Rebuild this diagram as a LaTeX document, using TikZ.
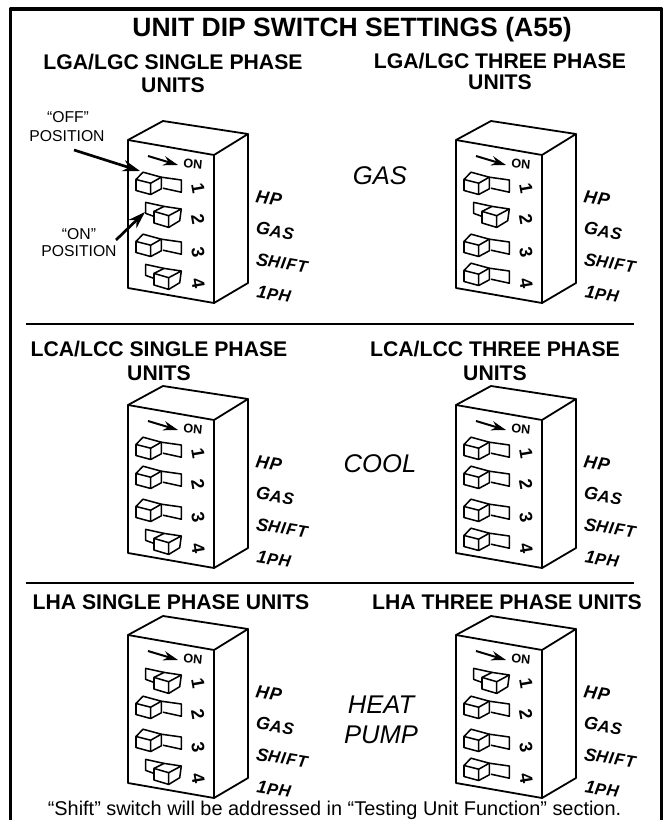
\documentclass[tikz,border=0pt]{standalone}
\usepackage{fontspec}
\setmainfont{Liberation Sans}
\newfontfamily\tagfont[LetterSpace=5]{Liberation Sans}
\usetikzlibrary{arrows.meta}

\begin{document}
\begin{tikzpicture}
		[x=0.75pt,y=-0.75pt,line join=round,
		box line/.style={line width=1.35pt},
		switch line/.style={line width=1.15pt},
		rule line/.style={line width=1.15pt},
		on arrow/.style={line width=1.5pt,-{Stealth[length=11pt,width=7pt]}},
		pos arrow/.style={line width=2pt,-{Stealth[length=13pt,width=8.5pt]}},
		main title/.style={inner sep=0pt,anchor=base,font=\bfseries\fontsize{19.9}{22}\selectfont},
		sub title/.style={inner sep=0pt,anchor=base,font=\bfseries\fontsize{15.9}{18}\selectfont},
		mode label/.style={inner sep=0pt,anchor=base,font=\itshape\fontsize{19.2}{22}\selectfont},
		pos label/.style={inner sep=0pt,anchor=base,font=\fontsize{11.8}{14}\selectfont},
		tag label/.style={inner sep=0pt,rotate=-9,font=\tagfont\bfseries\itshape},
		num label/.style={inner sep=0pt,rotate=-80,font=\bfseries\fontsize{13.5}{13.5}\selectfont},
		on label/.style={inner sep=0pt,rotate=-5,font=\bfseries\fontsize{9.5}{9.5}\selectfont},
		pics/swoff/.style={code={
			\draw[switch line] (-45.3,-0.5) -- (-30.6,3.2) -- (-30.6,14.5) -- (-45.3,10.5) -- cycle;
			\draw[switch line] (-45.3,-0.5) -- (-38.3,-7.8) -- (-20,-2.8) -- (-30.6,3.2);
			\draw[switch line] (-20,-2.8) -- (-20,8.8) -- (-30.6,14.5);
			\draw[switch line] (-20,-2.8) -- (0,0) -- (0,12.2) -- (-18.3,8.2);
		}},
		pics/swon/.style={code={
			\draw[switch line] (-27.3,2.4) -- (-12.6,6.7) -- (-12.6,18.4) -- (-27.3,14) -- cycle;
			\draw[switch line] (-27.3,2.4) -- (-17.3,-2.6) -- (0,0) -- (-12.6,6.7);
			\draw[switch line] (0,0) -- (-1.6,11.7) -- (-12.6,18.4);
			\draw[switch line] (-17.3,-2.6) -- (-35.6,-6.6) -- (-35.6,4.4) -- (-27.3,7.4);
		}}]
		
		\def\tagtext#1#2{{\fontsize{13.5}{12}\selectfont #1}{\fontsize{12.5}{12}\selectfont #2}}
		\def\dipbox#1#2#3#4#5#6#7{
			\begin{scope}[shift={(#2,#3)}]
				\draw[box line] (0,0) -- (86,15) -- (86,163) -- (0,148) -- cycle;
				\draw[box line] (0,0) -- (35,-19) -- (120,-6) -- (86,15);
				\draw[box line] (120,-6) -- (120,143) -- (86,163);
				\coordinate (#1arrowa) at (20,16);
				\coordinate (#1arrowb) at (50,25);
				\draw[on arrow] (#1arrowa) -- (#1arrowb);
				\node[on label] (#1on) at (65,24) {ON};
				\foreach \st/\yy/\ny [count=\k] in {#4/40/48,#5/69/79,#6/102/112,#7/131/143}{
					\pic at (53.3,\yy) {sw\st};
					\node[num label] (#1n\k) at (70,\ny) {\k};
				}
				\node[tag label] (#1hp) at (141,58) {\tagtext{H}{\fontsize{13.5}{12}\selectfont P}};
				\node[tag label] (#1gas) at (147,90.7) {\tagtext{G}{AS}};
				\node[tag label] (#1shift) at (154,123) {\tagtext{S}{HIFT}};
				\node[tag label] (#1ph) at (146,154) {\tagtext{1}{PH}};
			\end{scope}
		}
		
		\useasboundingbox (0,0) rectangle (666,820);
		\draw[line width=2.7pt] (10.5,820) -- (10.5,9.2) -- (661.5,9.2) -- (661.5,820);
		
		\node[main title] (title) at (352,37) {UNIT DIP SWITCH SETTINGS (A55)};
		
		\node[sub title] (t1) at (173,69.5) {LGA/LGC SINGLE PHASE};
		\node[sub title] (u1) at (173,93) {UNITS};
		\node[sub title] (t2) at (500,68.5) {LGA/LGC THREE PHASE};
		\node[sub title] (u2) at (500,90) {UNITS};
		\node[sub title] (t3) at (159,356) {LCA/LCC SINGLE PHASE};
		\node[sub title] (u3) at (159,380) {UNITS};
		\node[sub title] (t4) at (495,356) {LCA/LCC THREE PHASE};
		\node[sub title] (u4) at (495,380) {UNITS};
		\node[sub title] (t5) at (171,609.5) {LHA SINGLE PHASE UNITS};
		\node[sub title] (t6) at (507,609.5) {LHA THREE PHASE UNITS};
		
		\coordinate (rule1a) at (26,324);
		\coordinate (rule1b) at (634,324);
		\coordinate (rule2a) at (26,583);
		\coordinate (rule2b) at (634,583);
		\draw[rule line] (rule1a) -- (rule1b);
		\draw[rule line] (rule2a) -- (rule2b);
		
		\dipbox{a}{128}{140}{off}{on}{off}{on}
		\dipbox{b}{456}{140}{off}{on}{off}{off}
		\dipbox{c}{128}{405}{off}{off}{off}{on}
		\dipbox{d}{456}{405}{off}{off}{off}{off}
		\dipbox{e}{128}{635}{on}{off}{off}{on}
		\dipbox{f}{456}{635}{on}{off}{off}{off}
		
		\node[mode label] (gas) at (380,185) {GAS};
		\node[mode label] (cool) at (380,472) {COOL};
		\node[mode label] (heat) at (381,713) {HEAT};
		\node[mode label] (pump) at (381,743) {PUMP};
		
		\node[pos label] (off1) at (68,123) {“OFF”};
		\node[pos label] (off2) at (67,141.7) {POSITION};
		\node[pos label] (on1) at (79,239) {“ON”};
		\node[pos label] (on2) at (79,256.7) {POSITION};
		\coordinate (offtail) at (74,150);
		\coordinate (offtip) at (140,171);
		\coordinate (ontail) at (116,240);
		\coordinate (ontip) at (145,212);
		\draw[pos arrow] (offtail) -- (offtip);
		\draw[pos arrow] (ontail) -- (ontip);
		
		\node[inner sep=0pt,anchor=base,font=\fontsize{14.94}{16}\selectfont] (note) at (334.5,815.8) {“Shift” switch will be addressed in “Testing Unit Function” section.};
		\end{tikzpicture}
\end{document}
